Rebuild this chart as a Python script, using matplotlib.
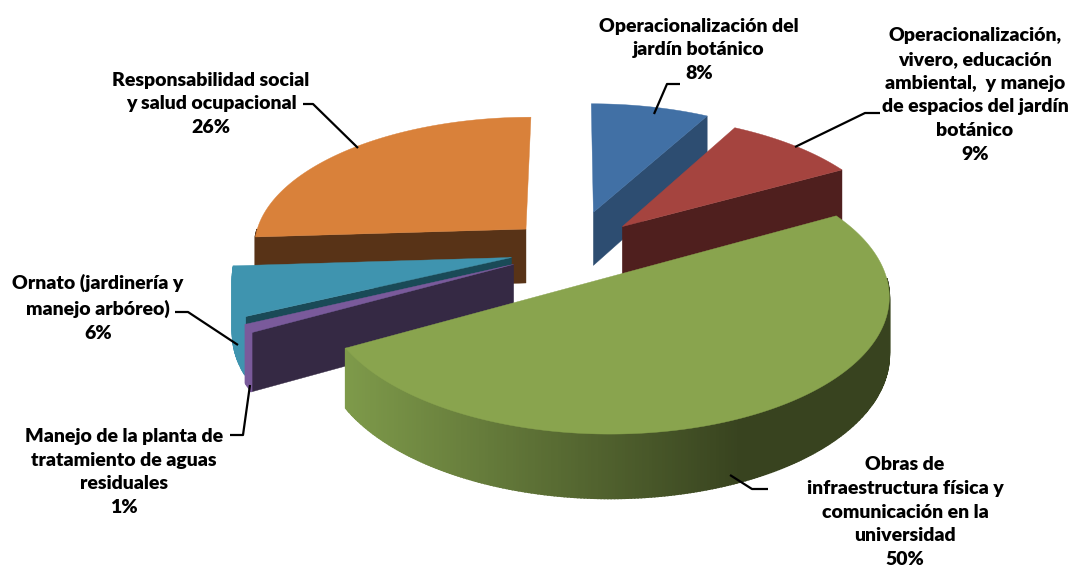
import numpy as np
import matplotlib
matplotlib.use('Agg')
import matplotlib.pyplot as plt

# slices, clockwise from 12 o'clock
labels = ['Operacionalización del\njardín botánico',
          'Operacionalización,\nvivero, educación\nambiental,  y manejo\nde espacios del jardín\nbotánico',
          'Obras de\ninfraestructura física y\ncomunicación en la\nuniversidad',
          'Manejo de la planta de\ntratamiento de aguas\nresiduales',
          'Ornato (jardinería y\nmanejo arbóreo)',
          'Responsabilidad social\ny salud ocupacional']
values = [8, 9, 50, 1, 6, 26]

# look of each slice
explode = [0.31, 0.26, 0.24, 0.24, 0.23, 0.24]
top_colors = ['#4170a5', '#a5443f', '#89a44e', '#7a5a9b', '#3f94af', '#d9813a']
wall_colors = ['#2d4d71', '#4f1f1e', '#38431f', '#352944', '#1a4a57', '#583317']
arc_colors = ['#2d4d71', '#4f1f1e', None, '#7a5a9b', '#3f94af', '#583317']
draw_order = [5, 4, 3, 0, 1, 2]

# label centres and leader lines, in pixels
label_pos = [(699, 50), (975, 95), (905, 512), (124, 472), (98, 308), (211, 104)]
leaders = [[(654, 114), (667, 84), (680, 84)],
           [(795, 147), (865, 113), (880, 113)],
           [(730, 475), (752, 489), (768, 489)],
           [(250, 385), (243, 435), (230, 435)],
           [(238, 345), (188, 312), (175, 312)],
           [(358, 148), (313, 104), (303, 104)]]

# fake 3d camera
CX, CY = 573, 250
R, RS = 274, 130
PERSP = 0.12
DEPTH = 55


def proj(x, y, z=0.0):
    w = 1 + PERSP * y
    return CX + R * x / w, CY - RS * y / w + DEPTH * z / w


def wall(x0, y0, x1, y1):
    return proj(np.array([x0, x1, x1, x0]), np.array([y0, y1, y1, y0]),
                np.array([0, 0, 1, 1]))


fig = plt.figure(figsize=(10.75, 5.75), dpi=100)
ax = fig.add_axes([0, 0, 1, 1])
ax.set_xlim(0, 1075)
ax.set_ylim(575, 0)
ax.axis('off')

fracs = np.array(values) / sum(values)
starts = 2 * np.pi * np.concatenate([[0], np.cumsum(fracs)[:-1]])
ends = starts + 2 * np.pi * fracs

for i in draw_order:
    mid = (starts[i] + ends[i]) / 2
    ox, oy = explode[i] * np.sin(mid), explode[i] * np.cos(mid)
    t = np.linspace(starts[i], ends[i], max(6, int(values[i] * 6)))
    xs, ys = ox + np.sin(t), oy + np.cos(t)

    # straight walls, only the ones facing the viewer
    if np.sin(starts[i]) < -1e-6:
        px, py = wall(ox, oy, xs[0], ys[0])
        ax.fill(px, py, color=wall_colors[i], lw=0.3)
    if np.sin(ends[i]) > 1e-6:
        px, py = wall(ox, oy, xs[-1], ys[-1])
        ax.fill(px, py, color=wall_colors[i], lw=0.3)

    # curved wall, in strips so green can shade from left to right
    for j in range(len(t) - 1):
        if np.cos((t[j] + t[j + 1]) / 2) > 0:
            continue
        px, py = wall(xs[j], ys[j], xs[j + 1], ys[j + 1])
        c = arc_colors[i]
        if c is None:
            g = np.clip((px.mean() - 345) / 395, 0, 1)
            a = np.array([0x7e, 0x9a, 0x4a]) / 255
            b = np.array([0x38, 0x43, 0x1f]) / 255
            c = tuple(a + (b - a) * g)
        ax.fill(px, py, color=c, lw=1.2)

    # top
    px, py = proj(np.r_[ox, xs], np.r_[oy, ys])
    ax.fill(px, py, color=top_colors[i], lw=0.3)

for i in range(len(labels)):
    line = np.array(leaders[i])
    ax.plot(line[:, 0], line[:, 1], color='black', lw=1.6, solid_capstyle='butt')
    ax.text(label_pos[i][0], label_pos[i][1], labels[i] + '\n' + str(values[i]) + '%',
            ha='center', va='center', family='Lato', weight='heavy', fontsize=14,
            linespacing=1.49, color='black')

fig.savefig('out.png', dpi=100)
